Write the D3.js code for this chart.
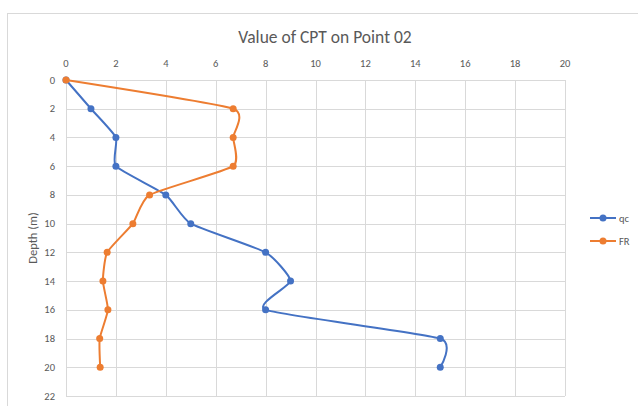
<!DOCTYPE html>
<html>
<head>
<meta charset="utf-8">
<script src="https://cdn.jsdelivr.net/npm/d3@7"></script>
<style>
    body { margin: 0; background: #fff; }
    text { font-family: Calibri, Carlito, "Liberation Sans", "Open Sans", sans-serif; }
</style>
</head>
<body>
<div id="chart"></div>
<script>
// depth in metres
const depths = [0, 2, 4, 6, 8, 10, 12, 14, 16, 18, 20];
const qcValues = [0, 1, 2, 2, 4, 5, 8, 9, 8, 15, 15];
const frValues = [0, 6.7, 6.7, 6.7, 3.35, 2.68, 1.65, 1.48, 1.68, 1.35, 1.37];
const xTicks = [0, 2, 4, 6, 8, 10, 12, 14, 16, 18, 20];
const yTicks = [0, 2, 4, 6, 8, 10, 12, 14, 16, 18, 20, 22];
const seriesNames = ['qc', 'FR'];
const seriesColors = ['#4472C4', '#ED7D31'];

const width = 638, height = 406;
const plot = { left: 66, right: 565, top: 80, bottom: 396 };

const svg = d3.select('#chart').append('svg')
    .attr('width', width)
    .attr('height', height);

// chart area border (runs off the right and bottom)
svg.append('rect')
    .attr('x', 7.5).attr('y', 13.5)
    .attr('width', 700).attr('height', 500)
    .attr('fill', '#fff')
    .attr('stroke', '#d9d9d9');

const x = d3.scaleLinear().domain([0, 20]).range([plot.left, plot.right]);
const y = d3.scaleLinear().domain([0, 22]).range([plot.top, plot.bottom]);

// grid
svg.append('g')
    .attr('stroke', '#d9d9d9')
    .selectAll('line')
    .data(xTicks)
    .join('line')
    .attr('x1', d => Math.round(x(d)) + 0.5).attr('x2', d => Math.round(x(d)) + 0.5)
    .attr('y1', plot.top).attr('y2', plot.bottom);

svg.append('g')
    .attr('stroke', '#d9d9d9')
    .selectAll('line')
    .data(yTicks)
    .join('line')
    .attr('x1', plot.left).attr('x2', plot.right)
    .attr('y1', d => Math.round(y(d)) + 0.5).attr('y2', d => Math.round(y(d)) + 0.5);

// top axis labels
svg.append('g')
    .attr('fill', '#595959')
    .attr('font-size', 10.5)
    .attr('text-anchor', 'middle')
    .selectAll('text')
    .data(xTicks)
    .join('text')
    .attr('x', d => x(d))
    .attr('y', 67)
    .text(d => d);

// left axis labels
svg.append('g')
    .attr('fill', '#595959')
    .attr('font-size', 10.5)
    .attr('text-anchor', 'end')
    .selectAll('text')
    .data(yTicks)
    .join('text')
    .attr('x', 55)
    .attr('y', d => y(d) + 3.5)
    .text(d => d);

svg.append('text')
    .attr('transform', `translate(37,${(plot.top + plot.bottom) / 2}) rotate(-90)`)
    .attr('text-anchor', 'middle')
    .attr('fill', '#595959')
    .attr('font-size', 12.5)
    .text('Depth (m)');

svg.append('text')
    .attr('x', 325)
    .attr('y', 43)
    .attr('text-anchor', 'middle')
    .attr('fill', '#595959')
    .attr('font-size', 17.5)
    .text('Value of CPT on Point 02');

// series
const series = [qcValues, frValues].map((vals, i) => ({
    name: seriesNames[i],
    color: seriesColors[i],
    points: vals.map((v, j) => ({ v: v, depth: depths[j] }))
}));

// roughly what excel's "smoothed line" looks like
const line = d3.line()
    .x(d => x(d.v))
    .y(d => y(d.depth))
    .curve(d3.curveCardinal.tension(0.5));

const sg = svg.selectAll('.series')
    .data(series)
    .join('g')
    .attr('class', 'series');

sg.append('path')
    .attr('fill', 'none')
    .attr('stroke', d => d.color)
    .attr('stroke-width', 2)
    .attr('d', d => line(d.points));

sg.selectAll('circle')
    .data(d => d.points.map(p => ({ ...p, color: d.color })))
    .join('circle')
    .attr('cx', d => x(d.v))
    .attr('cy', d => y(d.depth))
    .attr('r', 3.5)
    .attr('fill', d => d.color);

// legend
const legend = svg.append('g')
    .selectAll('g')
    .data(series)
    .join('g')
    .attr('transform', (d, i) => `translate(590,${218 + i * 23})`);

legend.append('line')
    .attr('x1', 0).attr('x2', 26)
    .attr('stroke', d => d.color)
    .attr('stroke-width', 2);

legend.append('circle')
    .attr('cx', 13)
    .attr('r', 3.5)
    .attr('fill', d => d.color);

legend.append('text')
    .attr('x', 29)
    .attr('y', 3.5)
    .attr('fill', '#595959')
    .attr('font-size', 10.5)
    .text(d => d.name);
</script>
</body>
</html>
